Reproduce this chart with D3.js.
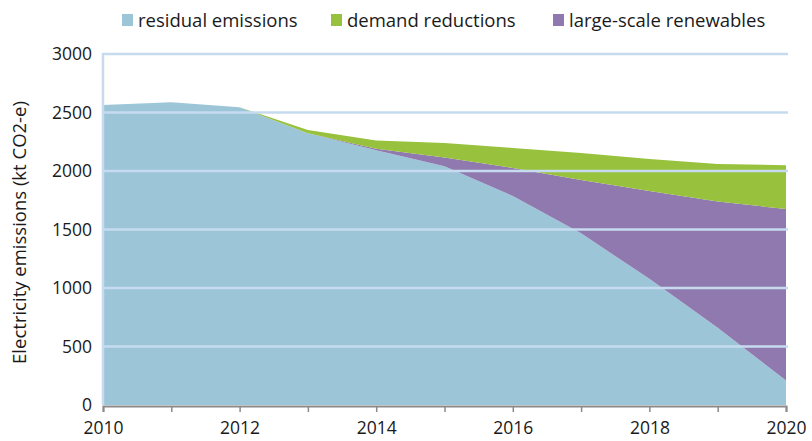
<!DOCTYPE html>
<html>
<head>
<meta charset="utf-8">
<script src="https://cdn.jsdelivr.net/npm/d3@7"></script>
<style>
  html, body { margin: 0; padding: 0; background: #fff; }
  svg { display: block; font-family: "Open Sans", "Noto Sans", sans-serif; }
</style>
</head>
<body>
<svg id="chart" width="812" height="441"></svg>
<script>
// Electricity emissions by source, kt CO2-e
const years = [2010, 2011, 2012, 2013, 2014, 2015, 2016, 2017, 2018, 2019, 2020];
const residualEmissions = [2564, 2587, 2545, 2322, 2178, 2040, 1786, 1467, 1078, 660, 210];
const largeScaleRenewables = [0, 0, 0, 0, 12, 75, 240, 456, 751, 1079, 1465];
const demandReductions = [0, 0, 0, 28, 70, 125, 171, 231, 274, 321, 374];

const seriesNames = ["residual emissions", "large-scale renewables", "demand reductions"];
const legendOrder = ["residual emissions", "demand reductions", "large-scale renewables"];
const yTicks = [0, 500, 1000, 1500, 2000, 2500, 3000];
const xTicks = [2010, 2012, 2014, 2016, 2018, 2020];

const colors = {
  "residual emissions": "#9dc5d8",
  "demand reductions": "#98c13d",
  "large-scale renewables": "#8f79ae"
};

const svg = d3.select("#chart");
const margin = { left: 103, right: 26, top: 54, bottom: 36 };
const width = 812 - margin.left - margin.right;
const height = 441 - margin.top - margin.bottom;

const x = d3.scaleLinear().domain([2010, 2020]).range([margin.left, margin.left + width]);
const y = d3.scaleLinear().domain([0, 3000]).range([margin.top + height, margin.top]);

const rows = years.map((yr, i) => ({
  year: yr,
  "residual emissions": residualEmissions[i],
  "large-scale renewables": largeScaleRenewables[i],
  "demand reductions": demandReductions[i]
}));

const stacked = d3.stack().keys(seriesNames)(rows);

const area = d3.area()
  .x(d => x(d.data.year))
  .y0(d => y(d[0]))
  .y1(d => y(d[1]));

svg.append("g")
  .selectAll("path")
  .data(stacked)
  .join("path")
  .attr("fill", d => colors[d.key])
  .attr("d", area);

// horizontal gridlines drawn over the areas
svg.append("g")
  .selectAll("line")
  .data(yTicks.filter(t => t > 0))
  .join("line")
  .attr("x1", x(2010))
  .attr("x2", x(2020) + 2)
  .attr("y1", d => y(d))
  .attr("y2", d => y(d))
  .attr("stroke", "#c6dbef")
  .attr("stroke-width", 2.5);

// left axis line
svg.append("line")
  .attr("x1", x(2010)).attr("x2", x(2010))
  .attr("y1", y(3000) - 1).attr("y2", y(0))
  .attr("stroke", "#c6dbef")
  .attr("stroke-width", 2.5);

// y tick labels
svg.append("g")
  .selectAll("text")
  .data(yTicks)
  .join("text")
  .attr("x", x(2010) - 11)
  .attr("y", d => y(d))
  .attr("dy", "0.35em")
  .attr("text-anchor", "end")
  .attr("font-size", 17.5)
  .attr("fill", "#1a1a1a")
  .text(d => d);

// bottom axis
const xAxis = d3.axisBottom(x)
  .tickValues(years)
  .tickSize(6)
  .tickFormat(d => xTicks.includes(d) ? d : "");

const gx = svg.append("g")
  .attr("transform", `translate(0,${y(0) + 1})`)
  .call(xAxis);
gx.select(".domain").attr("stroke", "#8a8a8a").attr("stroke-width", 2);
gx.selectAll(".tick line").attr("stroke", "#8a8a8a").attr("stroke-width", 1.5);
gx.selectAll(".tick text")
  .attr("font-size", 17.5)
  .attr("font-family", "\"Open Sans\", \"Noto Sans\", sans-serif")
  .attr("fill", "#1a1a1a")
  .attr("dy", "1.1em");

// y axis title
svg.append("text")
  .attr("transform", `translate(26,${(y(0) + y(3000)) / 2 + 3}) rotate(-90)`)
  .attr("text-anchor", "middle")
  .attr("font-size", 18.5)
  .attr("fill", "#1a1a1a")
  .text("Electricity emissions (kt CO2-e)");

// legend
const legendX = [122, 331, 553];
const legend = svg.append("g")
  .selectAll("g")
  .data(legendOrder)
  .join("g")
  .attr("transform", (d, i) => `translate(${legendX[i]},14)`);
legend.append("rect")
  .attr("width", 11).attr("height", 12)
  .attr("fill", d => colors[d]);
legend.append("text")
  .attr("x", 16)
  .attr("y", 6)
  .attr("dy", "0.36em")
  .attr("font-size", 18.5)
  .attr("fill", "#1a1a1a")
  .text(d => d);
</script>
</body>
</html>
